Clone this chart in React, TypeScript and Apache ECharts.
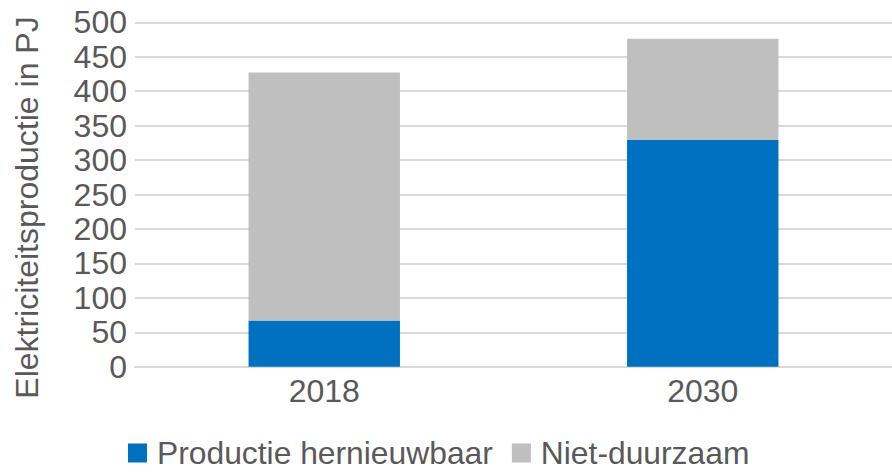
import React, { useEffect, useRef } from "react";
import * as echarts from "echarts";

const categories = ["2018", "2030"];
const renewable = [67, 329];
const nonSustainable = [360, 147];
const seriesNames = ["Productie hernieuwbaar", "Niet-duurzaam"];
const yAxisName = "Elektriciteitsproductie in PJ";

export default function App() {
  const ref = useRef<HTMLDivElement>(null);
  useEffect(() => {
    if (!ref.current) return;
    const chart = echarts.init(ref.current, null, { renderer: "svg" });
    const font = "Liberation Sans";
    const textColor = "#595959";
    const fs = 32;
    chart.setOption({
      animation: false,
      backgroundColor: "#ffffff",
      textStyle: { fontFamily: font },
      grid: { left: 135, top: 22.3, right: 0, height: 344.4, containLabel: false },
      graphic: [
        {
          type: "text",
          x: 27,
          y: 207.5,
          rotation: Math.PI / 2,
          style: {
            text: yAxisName,
            fontFamily: font,
            fontSize: fs,
            fill: textColor,
            align: "center",
            verticalAlign: "middle",
          },
        },
      ],
      legend: {
        left: 128,
        top: 437,
        padding: 0,
        itemWidth: 19,
        itemHeight: 19,
        itemGap: 19,
        icon: "rect",
        textStyle: {
          fontFamily: font,
          fontSize: 31.8,
          lineHeight: 26,
          color: textColor,
          padding: [0, 0, 0, 5],
        },
        data: seriesNames,
      },
      xAxis: {
        type: "category",
        data: categories,
        axisLine: { show: true, lineStyle: { color: "#D9D9D9", width: 2 } },
        axisTick: { show: false },
        axisLabel: { fontFamily: font, fontSize: fs, color: textColor, margin: 8 },
      },
      yAxis: {
        type: "value",
        min: 0,
        max: 500,
        interval: 50,
        axisLine: { show: false },
        axisTick: { show: false },
        axisLabel: { fontFamily: font, fontSize: fs, color: textColor, margin: 8 },
        splitLine: { lineStyle: { color: "#D9D9D9", width: 2 } },
      },
      series: [
        {
          name: seriesNames[0],
          type: "bar",
          stack: "total",
          data: renewable,
          barWidth: "40%",
          itemStyle: { color: "#0070C0" },
        },
        {
          name: seriesNames[1],
          type: "bar",
          stack: "total",
          data: nonSustainable,
          barWidth: "40%",
          itemStyle: { color: "#BFBFBF" },
        },
      ],
    });
    return () => chart.dispose();
  }, []);
  return (
    <div
      ref={ref}
      style={{ position: "fixed", left: 0, top: 0, width: 892, height: 472 }}
    />
  );
}
